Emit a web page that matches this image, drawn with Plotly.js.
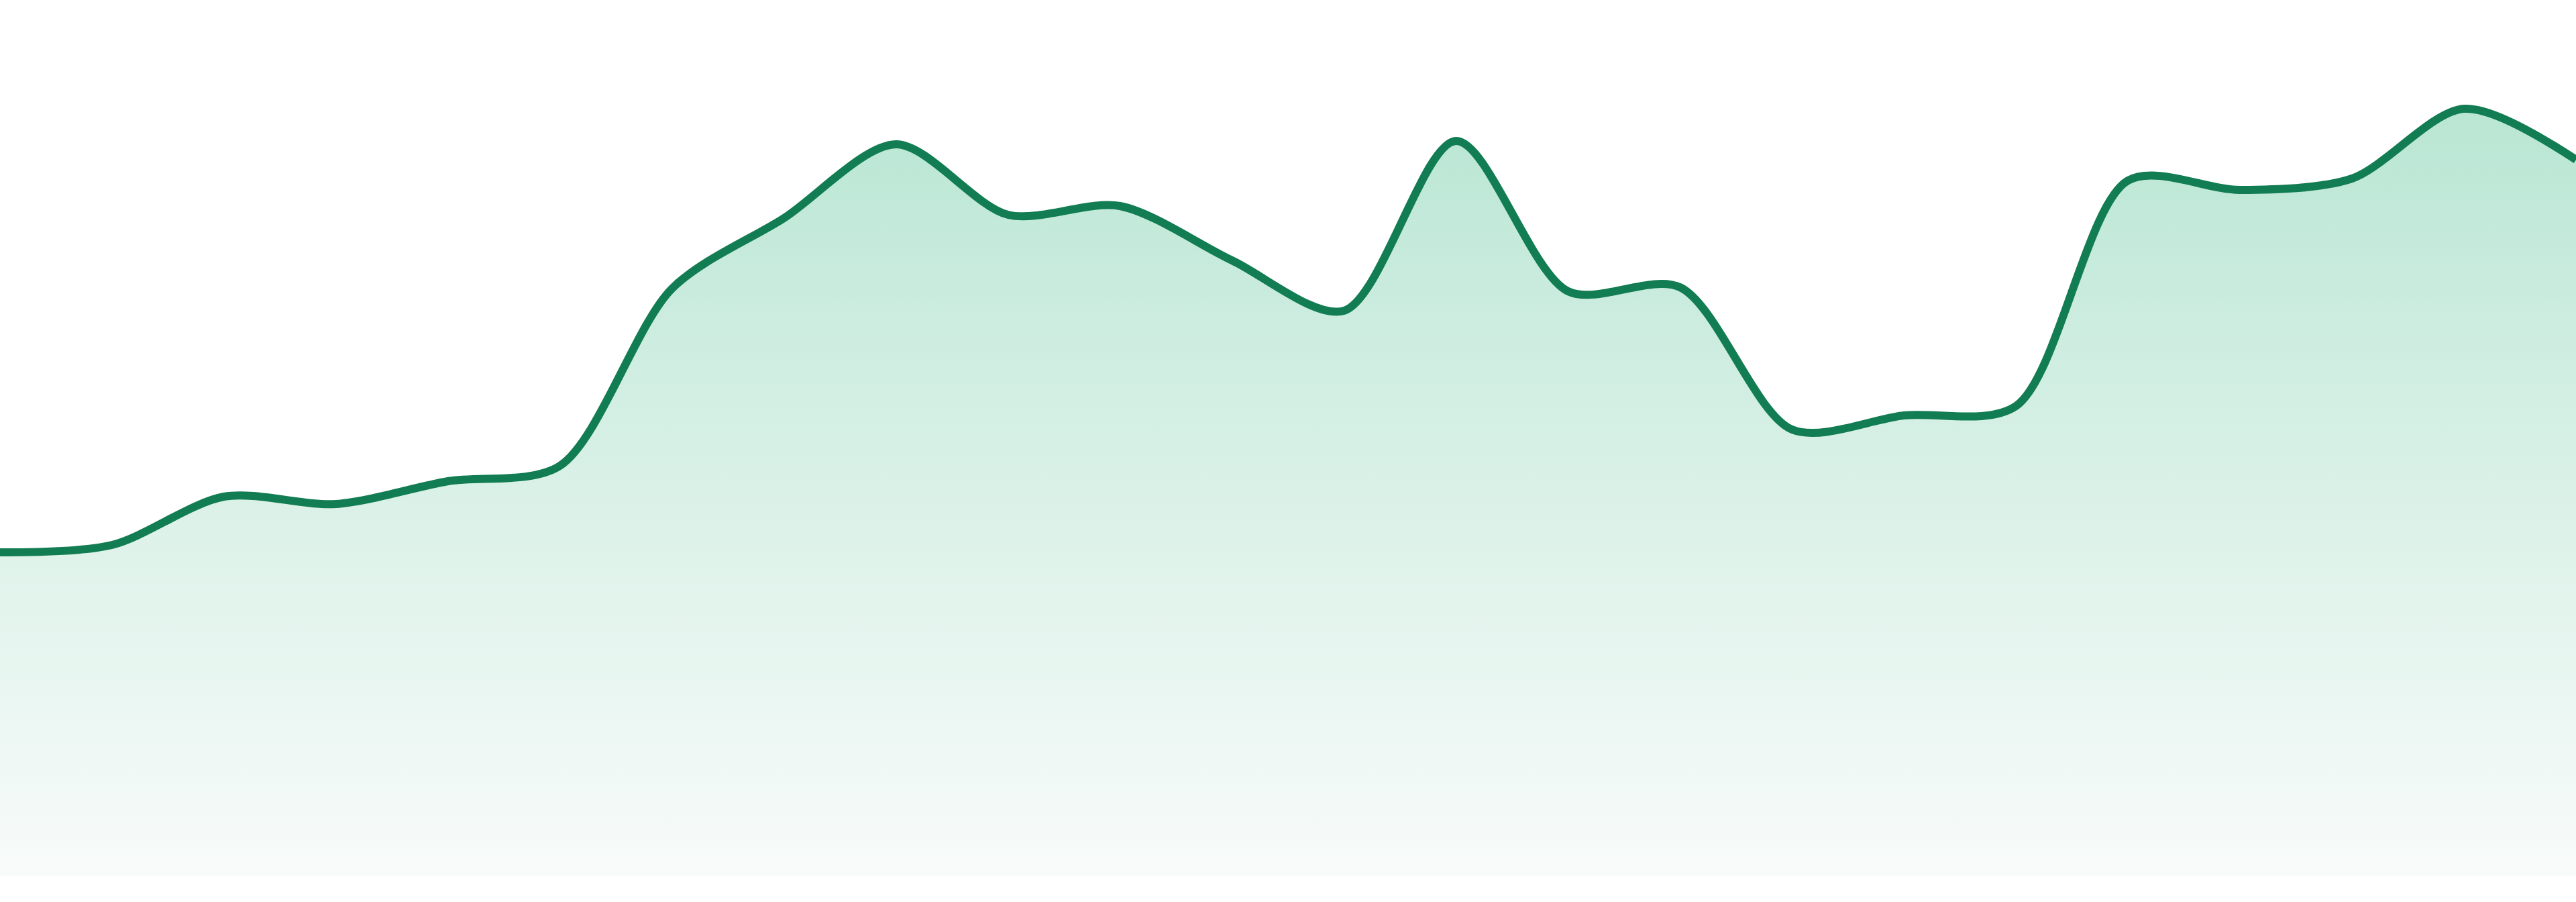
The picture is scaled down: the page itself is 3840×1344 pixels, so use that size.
<!DOCTYPE html>
<html>
<head>
<meta charset="utf-8">
<script src="https://cdn.plot.ly/plotly-3.0.1.min.js"></script>
<style>
  html, body { margin: 0; padding: 0; background: #ffffff; }
  #chart { width: 3840px; height: 1344px; }
</style>
</head>
<body>
<div id="chart"></div>
<script>
// Data
const periods = [0, 1, 2, 3, 4, 5, 6, 7, 8, 9, 10, 11, 12, 13, 14, 15, 16, 17, 18, 19, 20, 21, 22, 23];
const values = [48.2, 49.3, 56.5, 55.4, 58.8, 61.1, 87.5, 98.0, 109.0, 98.5, 99.8, 91.7,
                84.2, 109.5, 87.1, 87.7, 66.5, 68.6, 70.0, 103.6, 102.2, 103.9, 114.3, 106.7];

const trace = {
  x: periods,
  y: values,
  type: 'scatter',
  mode: 'lines',
  line: { color: '#127c52', width: 12, shape: 'spline', smoothing: 0.85 },
  fill: 'tozeroy',
  fillgradient: {
    type: 'vertical',
    start: 0,
    stop: 114.3,
    colorscale: [[0, '#f8fbfa'], [0.6, '#d4efe4'], [1, '#b9e6d3']]
  },
  hoverinfo: 'skip'
};

const layout = {
  width: 3840,
  height: 1344,
  margin: { l: 0, r: 0, t: 0, b: 39, pad: 0 },
  paper_bgcolor: '#ffffff',
  plot_bgcolor: '#ffffff',
  showlegend: false,
  xaxis: { range: [0, 23], visible: false, showgrid: false, zeroline: false, fixedrange: true },
  yaxis: { range: [0, 130.5], visible: false, showgrid: false, zeroline: false, fixedrange: true }
};

Plotly.newPlot('chart', [trace], layout, { displayModeBar: false, staticPlot: true });
</script>
</body>
</html>
